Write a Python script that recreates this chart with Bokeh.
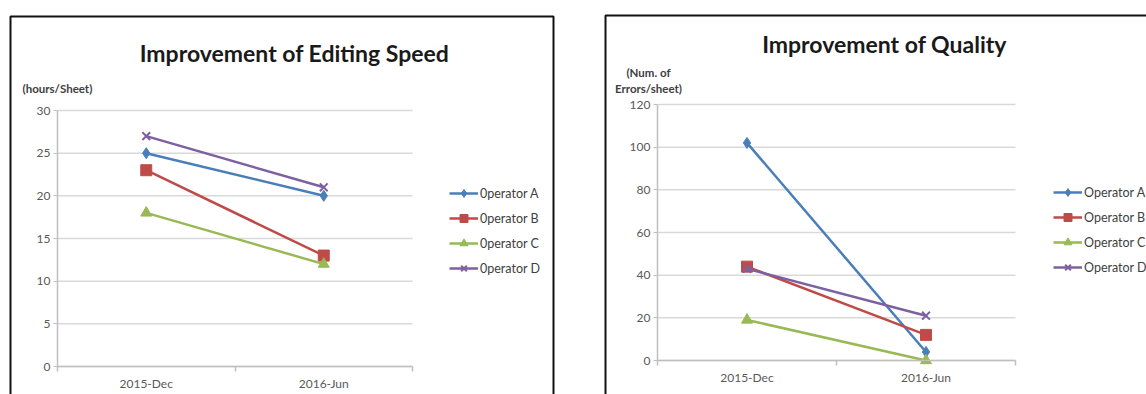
from bokeh.plotting import figure
from bokeh.models import (Range1d, FixedTicker, Legend, LegendItem, Label,
                          BoxAnnotation, LinearAxis)
from bokeh.layouts import row
from bokeh.embed import file_html
from bokeh.resources import INLINE

# ---------------- data ----------------
categories = ["2015-Dec", "2016-Jun"]
speed_title = "Improvement of Editing Speed"
speed_unit = "(hours/Sheet)"
speed_names = ["0perator A", "0perator B", "0perator C", "0perator D"]
speed_a = [25, 20]
speed_b = [23, 13]
speed_c = [18, 12]
speed_d = [27, 21]
speed_ticks = [0, 5, 10, 15, 20, 25, 30]

quality_title = "Improvement of Quality"
quality_unit = ["(Num. of", "Errors/sheet)"]
quality_names = ["Operator A", "Operator B", "Operator C", "Operator D"]
quality_a = [102, 4]
quality_b = [44, 12]
quality_c = [19, 0]
quality_d = [43, 21]
quality_ticks = [0, 20, 40, 60, 80, 100, 120]

colors = ["#4A7EBB", "#BE4B48", "#98B954", "#7D60A0"]
markers = ["diamond", "square", "triangle", "x"]
FONT = "Lato"
xs = [0.5, 1.5]
H = 394


class Mapper:
    """pixel (canvas) -> data coordinates for a chart whose plot area is
    [fl, fr] x [ft, fb] in canvas pixels and spans x 0..2, y 0..ymax."""
    def __init__(self, fl, fr, ft, fb, ymax):
        self.fl, self.fr, self.ft, self.fb, self.ymax = fl, fr, ft, fb, ymax

    def x(self, px):
        return (px - self.fl) / (self.fr - self.fl) * 2

    def y(self, py):
        return (self.fb - py) / (self.fb - self.ft) * self.ymax


def make_chart(width, m, ticks, series, names, title, title_pos, units, border,
               legend_px):
    p = figure(width=width, height=H, output_backend="svg", toolbar_location=None,
               x_range=Range1d(m.x(0), m.x(width)), y_range=Range1d(m.y(H), m.y(0)),
               x_axis_location=None, y_axis_location=None,
               min_border=0, min_border_left=0, min_border_right=0,
               min_border_top=0, min_border_bottom=0)
    p.outline_line_color = None
    p.background_fill_color = "white"
    p.border_fill_color = "white"
    p.xgrid.visible = False
    p.ygrid.visible = False

    # chart area border
    p.add_layout(BoxAnnotation(left=m.x(border[0]), right=m.x(border[1]),
                               top=m.y(border[2]), bottom=m.y(border[3]),
                               fill_color=None, line_color="#111111", line_alpha=1.0,
                               line_width=2, level="underlay"))

    # gridlines (horizontal, across the plot area)
    n = len(ticks)
    p.segment(x0=[0] * n, x1=[2] * n, y0=ticks, y1=ticks,
              line_color="#D9D9D9", line_width=1.5)

    # x axis (category style)
    xa = LinearAxis(fixed_location=0, bounds=(0, 2))
    xa.ticker = FixedTicker(ticks=xs, minor_ticks=[0, 1, 2])
    xa.major_label_overrides = {0.5: categories[0], 1.5: categories[1]}
    xa.major_tick_line_color = None
    xa.minor_tick_out = 5
    xa.minor_tick_in = 0
    xa.minor_tick_line_color = "#BFBFBF"
    xa.minor_tick_line_width = 1.5
    xa.major_label_standoff = 3
    # y axis
    ya = LinearAxis(fixed_location=0, bounds=(0, m.ymax))
    ya.ticker = FixedTicker(ticks=ticks, minor_ticks=[])
    ya.major_tick_out = 4
    ya.major_tick_in = 0
    ya.major_tick_line_color = "#BFBFBF"
    ya.major_label_standoff = 3
    for ax in (xa, ya):
        ax.axis_line_color = "#BFBFBF"
        ax.axis_line_width = 1.5
        ax.major_label_text_font = FONT
        ax.major_label_text_font_size = "12px"
        ax.major_label_text_color = "#595959"
    p.add_layout(xa, "below")
    p.add_layout(ya, "left")

    items = []
    for vals, name, c, mk in zip(series, names, colors, markers):
        ln = p.line(xs, vals, line_color=c, line_width=2.5)
        sc = p.scatter(xs, vals, marker=mk, size=11, fill_color=c, line_color=c,
                       line_width=2 if mk == "x" else 1)
        items.append(LegendItem(label=name, renderers=[ln, sc]))
    leg = Legend(items=items, location=(legend_px[0], H - legend_px[1]),
                 glyph_width=29, glyph_height=20,
                 label_height=20, spacing=5, padding=0, margin=0, label_standoff=2,
                 border_line_color=None, background_fill_alpha=0,
                 label_text_font=FONT, label_text_font_size="12.5px",
                 label_text_color="#404040")
    p.add_layout(leg)

    p.add_layout(Label(x=m.x(title_pos[0]), y=m.y(title_pos[1]), text=title,
                       text_font=FONT, text_font_style="bold", text_font_size="23px",
                       text_align="center", text_baseline="middle",
                       text_color="#1a1a1a"))
    for txt, (ux, uy), align in units:
        p.add_layout(Label(x=m.x(ux), y=m.y(uy), text=txt, text_font=FONT,
                           text_font_style="bold", text_font_size="11.5px",
                           text_align=align, text_baseline="middle",
                           text_color="#404040"))
    return p


# ---------------- left chart ----------------
mL = Mapper(57, 412, 110, 366, 30)
p1 = make_chart(580, mL, speed_ticks, [speed_a, speed_b, speed_c, speed_d],
                speed_names, speed_title, (294, 52),
                [(speed_unit, (22, 88), "left")],
                (10, 553, 16, 420), (449, 278))

# ---------------- right chart ----------------
OFF = 580
mR = Mapper(657 - OFF, 1015 - OFF, 104, 360, 120)
p2 = make_chart(1146 - OFF, mR, quality_ticks, [quality_a, quality_b, quality_c, quality_d],
                quality_names, quality_title, (884 - OFF, 43),
                [(quality_unit[0], (648 - OFF, 72), "center"),
                 (quality_unit[1], (648 - OFF, 88), "center")],
                (605 - OFF, 1200 - OFF, 15, 420), (1053 - OFF, 277))

layout = row(p1, p2, spacing=0)
open("out.html", "w").write(file_html(layout, INLINE))
